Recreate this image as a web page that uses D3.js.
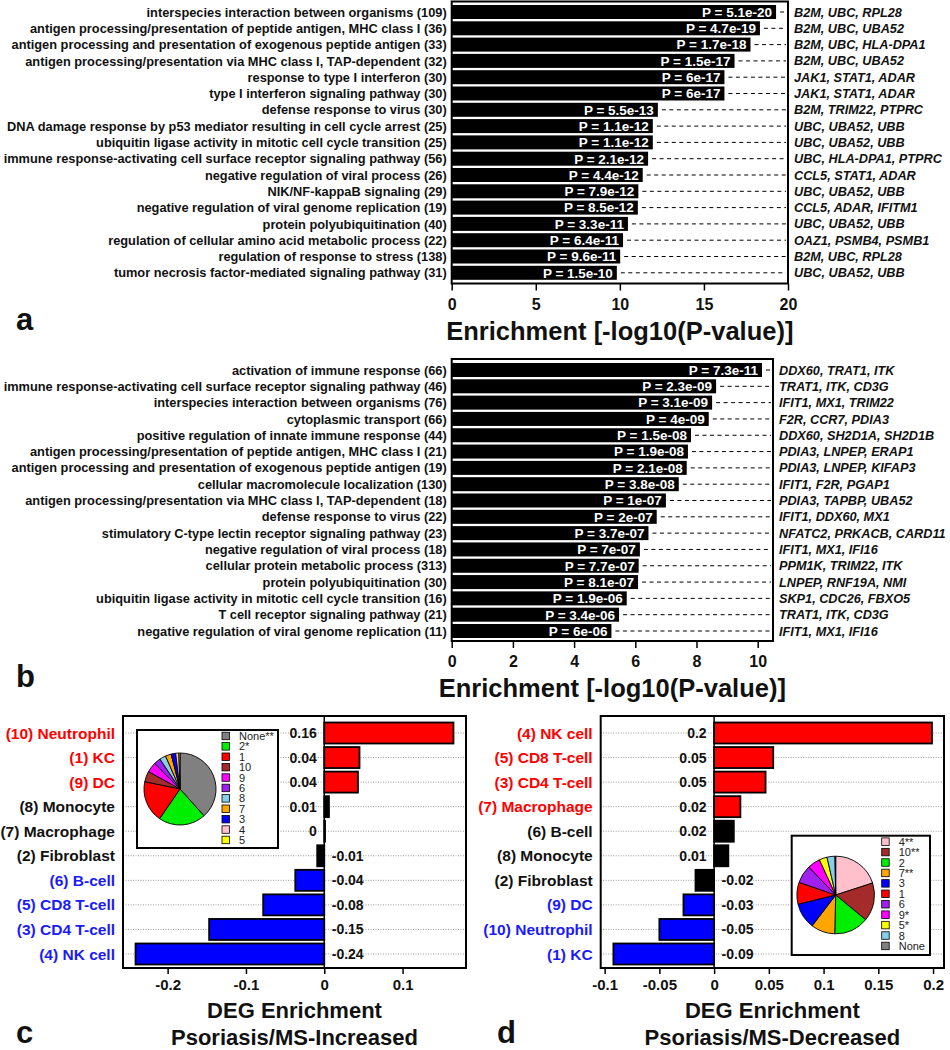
<!DOCTYPE html>
<html>
<head>
<meta charset="utf-8">
<script src="https://cdn.jsdelivr.net/npm/d3@7"></script>
<style>
  html, body { margin: 0; padding: 0; background: #fff; }
  svg { display: block; font-family: "Liberation Sans", Arial, sans-serif; }
</style>
</head>
<body>
<svg id="chart" width="950" height="1050"></svg>
<script>
// ---------------- DATA ----------------
// Panel a
const aTerms = [
  "interspecies interaction between organisms (109)",
  "antigen processing/presentation of peptide antigen, MHC class I (36)",
  "antigen processing and presentation of exogenous peptide antigen (33)",
  "antigen processing/presentation via MHC class I, TAP-dependent (32)",
  "response to type I interferon (30)",
  "type I interferon signaling pathway (30)",
  "defense response to virus (30)",
  "DNA damage response by p53 mediator resulting in cell cycle arrest (25)",
  "ubiquitin ligase activity in mitotic cell cycle transition (25)",
  "immune response-activating cell surface receptor signaling pathway (56)",
  "negative regulation of viral process (26)",
  "NIK/NF-kappaB signaling (29)",
  "negative regulation of viral genome replication (19)",
  "protein polyubiquitination (40)",
  "regulation of cellular amino acid metabolic process (22)",
  "regulation of response to stress (138)",
  "tumor necrosis factor-mediated signaling pathway (31)"
];
const aEnrichment = [19.29, 18.33, 17.77, 16.82, 16.22, 16.22, 12.26, 11.96, 11.96, 11.68, 11.36, 11.10, 11.07, 10.48, 10.19, 10.02, 9.82];
const aPLabels = ["P = 5.1e-20","P = 4.7e-19","P = 1.7e-18","P = 1.5e-17","P = 6e-17","P = 6e-17","P = 5.5e-13","P = 1.1e-12","P = 1.1e-12","P = 2.1e-12","P = 4.4e-12","P = 7.9e-12","P = 8.5e-12","P = 3.3e-11","P = 6.4e-11","P = 9.6e-11","P = 1.5e-10"];
const aGenes = ["B2M, UBC, RPL28","B2M, UBC, UBA52","B2M, UBC, HLA-DPA1","B2M, UBC, UBA52","JAK1, STAT1, ADAR","JAK1, STAT1, ADAR","B2M, TRIM22, PTPRC","UBC, UBA52, UBB","UBC, UBA52, UBB","UBC, HLA-DPA1, PTPRC","CCL5, STAT1, ADAR","UBC, UBA52, UBB","CCL5, ADAR, IFITM1","UBC, UBA52, UBB","OAZ1, PSMB4, PSMB1","B2M, UBC, RPL28","UBC, UBA52, UBB"];
const aTicks = [0, 5, 10, 15, 20];

// Panel b
const bTerms = [
  "activation of immune response (66)",
  "immune response-activating cell surface receptor signaling pathway (46)",
  "interspecies interaction between organisms (76)",
  "cytoplasmic transport (66)",
  "positive regulation of innate immune response (44)",
  "antigen processing/presentation of peptide antigen, MHC class I (21)",
  "antigen processing and presentation of exogenous peptide antigen (19)",
  "cellular macromolecule localization (130)",
  "antigen processing/presentation via MHC class I, TAP-dependent (18)",
  "defense response to virus (22)",
  "stimulatory C-type lectin receptor signaling pathway (23)",
  "negative regulation of viral process (18)",
  "cellular protein metabolic process (313)",
  "protein polyubiquitination (30)",
  "ubiquitin ligase activity in mitotic cell cycle transition (16)",
  "T cell receptor signaling pathway (21)",
  "negative regulation of viral genome replication (11)"
];
const bEnrichment = [10.14, 8.64, 8.51, 8.40, 7.82, 7.72, 7.68, 7.42, 7.00, 6.70, 6.43, 6.15, 6.11, 6.09, 5.72, 5.47, 5.22];
const bPLabels = ["P = 7.3e-11","P = 2.3e-09","P = 3.1e-09","P = 4e-09","P = 1.5e-08","P = 1.9e-08","P = 2.1e-08","P = 3.8e-08","P = 1e-07","P = 2e-07","P = 3.7e-07","P = 7e-07","P = 7.7e-07","P = 8.1e-07","P = 1.9e-06","P = 3.4e-06","P = 6e-06"];
const bGenes = ["DDX60, TRAT1, ITK","TRAT1, ITK, CD3G","IFIT1, MX1, TRIM22","F2R, CCR7, PDIA3","DDX60, SH2D1A, SH2D1B","PDIA3, LNPEP, ERAP1","PDIA3, LNPEP, KIFAP3","IFIT1, F2R, PGAP1","PDIA3, TAPBP, UBA52","IFIT1, DDX60, MX1","NFATC2, PRKACB, CARD11","IFIT1, MX1, IFI16","PPM1K, TRIM22, ITK","LNPEP, RNF19A, NMI","SKP1, CDC26, FBXO5","TRAT1, ITK, CD3G","IFIT1, MX1, IFI16"];
const bTicks = [0, 2, 4, 6, 8, 10];

// Panel c
const cCells = ["(10) Neutrophil","(1) KC","(9) DC","(8) Monocyte","(7) Macrophage","(2) Fibroblast","(6) B-cell","(5) CD8 T-cell","(3) CD4 T-cell","(4) NK cell"];
const cValues = [0.165, 0.045, 0.043, 0.006, 0.001, -0.009, -0.037, -0.078, -0.147, -0.241];
const cValueLabels = ["0.16","0.04","0.04","0.01","0","-0.01","-0.04","-0.08","-0.15","-0.24"];
const cGroups = ["up","up","up","ns","ns","ns","down","down","down","down"];
const cTicks = [-0.2, -0.1, 0, 0.1];
const cTickLabels = ["-0.2","-0.1","0","0.1"];
const cPieClusters = ["None","2","1","10","9","6","8","7","3","4","5"];
const cPieLabels = ["None**","2*","1","10","9","6","8","7","3","4","5"];
const cPieValues = [38, 21, 18.5, 4.7, 4.5, 3.0, 2.8, 2.6, 2.0, 1.4, 0.5];

// Panel d
const dCells = ["(4) NK cell","(5) CD8 T-cell","(3) CD4 T-cell","(7) Macrophage","(6) B-cell","(8) Monocyte","(2) Fibroblast","(9) DC","(10) Neutrophil","(1) KC"];
const dValues = [0.199, 0.054, 0.047, 0.024, 0.018, 0.013, -0.017, -0.028, -0.050, -0.092];
const dValueLabels = ["0.2","0.05","0.05","0.02","0.02","0.01","-0.02","-0.03","-0.05","-0.09"];
const dGroups = ["up","up","up","up","ns","ns","ns","down","down","down"];
const dTicks = [-0.1, -0.05, 0, 0.05, 0.1, 0.15, 0.2];
const dTickLabels = ["-0.1","-0.05","0","0.05","0.1","0.15","0.2"];
const dPieClusters = ["4","10","2","7","3","1","6","9","5","8","None"];
const dPieLabels = ["4**","10**","2","7**","3","1","6","9*","5*","8","None"];
const dPieValues = [20, 16, 14.4, 10, 10.8, 9.1, 7.5, 5.3, 3.3, 3.3, 0.3];

// ---------------- STYLES ----------------
const clusterColor = {
  "None": "#808080", "1": "#ff0000", "2": "#00ee00", "3": "#0000ff", "4": "#ffc0cb",
  "5": "#ffff00", "6": "#a020f0", "7": "#ffa500", "8": "#87ceeb", "9": "#ff00ff", "10": "#a52a2a"
};
const barColor = { up: "#ff0000", ns: "#000000", down: "#0000ff" };
const textColor = { up: "#ff0000", ns: "#111111", down: "#1a1aff" };

const svg = d3.select("#chart");

// ---------------- ENRICHMENT PANELS (a, b) ----------------
function drawEnrichment(cfg) {
  const g = svg.append("g");
  const x = d3.scaleLinear().domain(cfg.domain).range([cfg.left, cfg.right]);
  const y = d3.scalePoint().domain(d3.range(cfg.terms.length)).range([cfg.rowTop, cfg.rowBottom]);
  const bh = 14;

  g.selectAll("rect.bar").data(cfg.values).join("rect")
    .attr("x", x(0)).attr("y", (d, i) => y(i) - bh / 2)
    .attr("width", d => x(d) - x(0)).attr("height", bh)
    .attr("fill", "#000");

  g.selectAll("line.dash").data(cfg.values).join("line")
    .attr("x1", d => x(d) + 4).attr("x2", cfg.right - 2)
    .attr("y1", (d, i) => y(i)).attr("y2", (d, i) => y(i))
    .attr("stroke", "#000").attr("stroke-width", 1).attr("stroke-dasharray", "4,3.5");

  g.selectAll("text.p").data(cfg.values).join("text")
    .attr("x", d => x(d) - 4).attr("y", (d, i) => y(i)).attr("dy", "0.36em")
    .attr("text-anchor", "end").attr("fill", "#fff")
    .attr("font-size", 13.5).attr("font-weight", "bold")
    .text((d, i) => cfg.plabels[i]);

  g.selectAll("text.term").data(cfg.terms).join("text")
    .attr("x", cfg.left - 5).attr("y", (d, i) => y(i)).attr("dy", "0.36em")
    .attr("text-anchor", "end").attr("fill", "#111")
    .attr("font-size", 12.8).attr("font-weight", "bold")
    .text(d => d);

  g.selectAll("text.gene").data(cfg.genes).join("text")
    .attr("x", cfg.right + 6).attr("y", (d, i) => y(i)).attr("dy", "0.36em")
    .attr("fill", "#111").attr("font-size", 12.7).attr("font-weight", "bold").attr("font-style", "italic")
    .text(d => d);

  g.append("rect").attr("x", cfg.left).attr("y", cfg.boxTop)
    .attr("width", cfg.right - cfg.left).attr("height", cfg.boxBottom - cfg.boxTop)
    .attr("fill", "none").attr("stroke", "#000").attr("stroke-width", 2);

  const ax = g.append("g").attr("transform", `translate(0,${cfg.boxBottom})`)
    .call(d3.axisBottom(x).tickValues(cfg.ticks).tickSize(7).tickFormat(d3.format("d")));
  ax.select(".domain").remove();
  ax.selectAll("line").attr("stroke-width", 1.5);
  ax.selectAll("text").attr("y", 26).attr("dy", null)
    .attr("font-size", 16).attr("font-weight", "bold").attr("fill", "#111")
    .attr("font-family", "Liberation Sans, Arial, sans-serif");

  g.append("text").attr("x", (cfg.left + cfg.right) / 2).attr("y", cfg.boxBottom + 56)
    .attr("text-anchor", "middle").attr("font-size", 25.5).attr("font-weight", "bold").attr("fill", "#111")
    .text("Enrichment [-log10(P-value)]");

  g.append("text").attr("x", 16).attr("y", cfg.boxBottom + 46)
    .attr("font-size", 31).attr("font-weight", "bold").attr("fill", "#111").text(cfg.letter);
}

drawEnrichment({
  terms: aTerms, values: aEnrichment, plabels: aPLabels, genes: aGenes, ticks: aTicks,
  domain: [0, 20], left: 451.7, right: 788, rowTop: 12, rowBottom: 272.8,
  boxTop: 1.5, boxBottom: 283.5, letter: "a"
});
drawEnrichment({
  terms: bTerms, values: bEnrichment, plabels: bPLabels, genes: bGenes, ticks: bTicks,
  domain: [0, 10.5], left: 451.7, right: 773, rowTop: 370, rowBottom: 631,
  boxTop: 359, boxBottom: 641, letter: "b"
});

// ---------------- DEG PANELS (c, d) ----------------
function drawDeg(cfg) {
  const g = svg.append("g");
  const x = d3.scaleLinear().domain(cfg.domain).range([cfg.left, cfg.right]);
  const y = d3.scalePoint().domain(d3.range(cfg.cells.length)).range([733, 954]);
  const top = 716, bottom = 968, bh = 21;

  g.append("rect").attr("x", cfg.left).attr("y", top)
    .attr("width", cfg.right - cfg.left).attr("height", bottom - top).attr("fill", "#fff");

  g.selectAll("line.grid").data(cfg.cells).join("line")
    .attr("x1", cfg.left).attr("x2", cfg.right)
    .attr("y1", (d, i) => y(i)).attr("y2", (d, i) => y(i))
    .attr("stroke", "#9a9a9a").attr("stroke-width", 1).attr("stroke-dasharray", "1,1.5");

  g.selectAll("rect.bar").data(cfg.values).join("rect")
    .attr("x", d => Math.min(x(0), x(d))).attr("y", (d, i) => y(i) - bh / 2)
    .attr("width", d => Math.abs(x(d) - x(0))).attr("height", bh)
    .attr("fill", (d, i) => barColor[cfg.groups[i]])
    .attr("stroke", "#000").attr("stroke-width", 1.8);

  g.append("line").attr("x1", x(0)).attr("x2", x(0)).attr("y1", top).attr("y2", bottom)
    .attr("stroke", "#000").attr("stroke-width", 1.5);

  g.selectAll("text.val").data(cfg.values).join("text")
    .attr("x", d => d >= 0 ? x(0) - 7.5 : x(0) + 7.5)
    .attr("y", (d, i) => y(i)).attr("dy", "0.36em")
    .attr("text-anchor", d => d >= 0 ? "end" : "start")
    .attr("font-size", 14).attr("font-weight", "bold").attr("fill", "#111")
    .text((d, i) => cfg.valueLabels[i]);

  g.selectAll("text.cell").data(cfg.cells).join("text")
    .attr("x", cfg.left - 8).attr("y", (d, i) => y(i)).attr("dy", "0.36em")
    .attr("text-anchor", "end").attr("font-size", 15.5).attr("font-weight", "bold")
    .attr("fill", (d, i) => textColor[cfg.groups[i]])
    .text(d => d);

  const ib = cfg.inset;
  g.append("rect").attr("x", ib.x0).attr("y", ib.y0).attr("width", ib.x1 - ib.x0).attr("height", ib.y1 - ib.y0)
    .attr("fill", "#fff").attr("stroke", "#000").attr("stroke-width", 2);
  const pie = d3.pie().sort(null).value(d => d)(cfg.pieValues);
  const arc = d3.arc().innerRadius(0).outerRadius(ib.r);
  g.append("g").attr("transform", `translate(${ib.cx},${ib.cy})`)
    .selectAll("path").data(pie).join("path")
    .attr("d", arc).attr("fill", (d, i) => clusterColor[cfg.pieClusters[i]])
    .attr("stroke", "#000").attr("stroke-width", 0.9);
  const ly = d3.scalePoint().domain(d3.range(cfg.pieLabels.length)).range([ib.ly0, ib.ly1]);
  g.selectAll("rect.leg").data(cfg.pieClusters).join("rect")
    .attr("x", ib.lx).attr("y", (d, i) => ly(i) - 3.8).attr("width", 7.5).attr("height", 7.5)
    .attr("fill", d => clusterColor[d]).attr("stroke", "#000").attr("stroke-width", 0.8);
  g.selectAll("text.leg").data(cfg.pieLabels).join("text")
    .attr("x", ib.lx + 17).attr("y", (d, i) => ly(i)).attr("dy", "0.36em")
    .attr("font-size", 11).attr("fill", "#222").text(d => d);

  g.append("rect").attr("x", cfg.left).attr("y", top)
    .attr("width", cfg.right - cfg.left).attr("height", bottom - top)
    .attr("fill", "none").attr("stroke", "#000").attr("stroke-width", 2);

  const ax = g.append("g").attr("transform", `translate(0,${bottom})`)
    .call(d3.axisBottom(x).tickValues(cfg.ticks).tickSize(6).tickFormat((d, i) => cfg.tickLabels[i]));
  ax.select(".domain").remove();
  ax.selectAll("line").attr("stroke-width", 1.5);
  ax.selectAll("text").attr("y", 22).attr("dy", null)
    .attr("font-size", 15).attr("font-weight", "bold").attr("fill", "#111")
    .attr("font-family", "Liberation Sans, Arial, sans-serif");

  const cx = (cfg.left + cfg.right) / 2;
  g.append("text").attr("x", cx).attr("y", 1018).attr("text-anchor", "middle")
    .attr("font-size", 22).attr("font-weight", "bold").attr("fill", "#111").text("DEG Enrichment");
  g.append("text").attr("x", cx).attr("y", 1044.5).attr("text-anchor", "middle")
    .attr("font-size", 22).attr("font-weight", "bold").attr("fill", "#111").text(cfg.subtitle);
  g.append("text").attr("x", cfg.letterX).attr("y", 1043)
    .attr("font-size", 31).attr("font-weight", "bold").attr("fill", "#111").text(cfg.letter);
}

drawDeg({
  cells: cCells, values: cValues, valueLabels: cValueLabels, groups: cGroups,
  ticks: cTicks, tickLabels: cTickLabels, domain: [-0.257, 0.181], left: 123, right: 466,
  pieClusters: cPieClusters, pieLabels: cPieLabels, pieValues: cPieValues,
  inset: { x0: 137, y0: 730, x1: 278, y1: 848, cx: 180, cy: 789, r: 36, lx: 222, ly0: 736, ly1: 840 },
  subtitle: "Psoriasis/MS-Increased", letter: "c", letterX: 16
});
drawDeg({
  cells: dCells, values: dValues, valueLabels: dValueLabels, groups: dGroups,
  ticks: dTicks, tickLabels: dTickLabels, domain: [-0.1036, 0.21], left: 600.7, right: 944,
  pieClusters: dPieClusters, pieLabels: dPieLabels, pieValues: dPieValues,
  inset: { x0: 791.7, y0: 835.7, x1: 930, y1: 955, cx: 835.7, cy: 895, r: 38.8, lx: 881.7, ly0: 841.7, ly1: 946 },
  subtitle: "Psoriasis/MS-Decreased", letter: "d", letterX: 497
});
</script>
</body>
</html>
